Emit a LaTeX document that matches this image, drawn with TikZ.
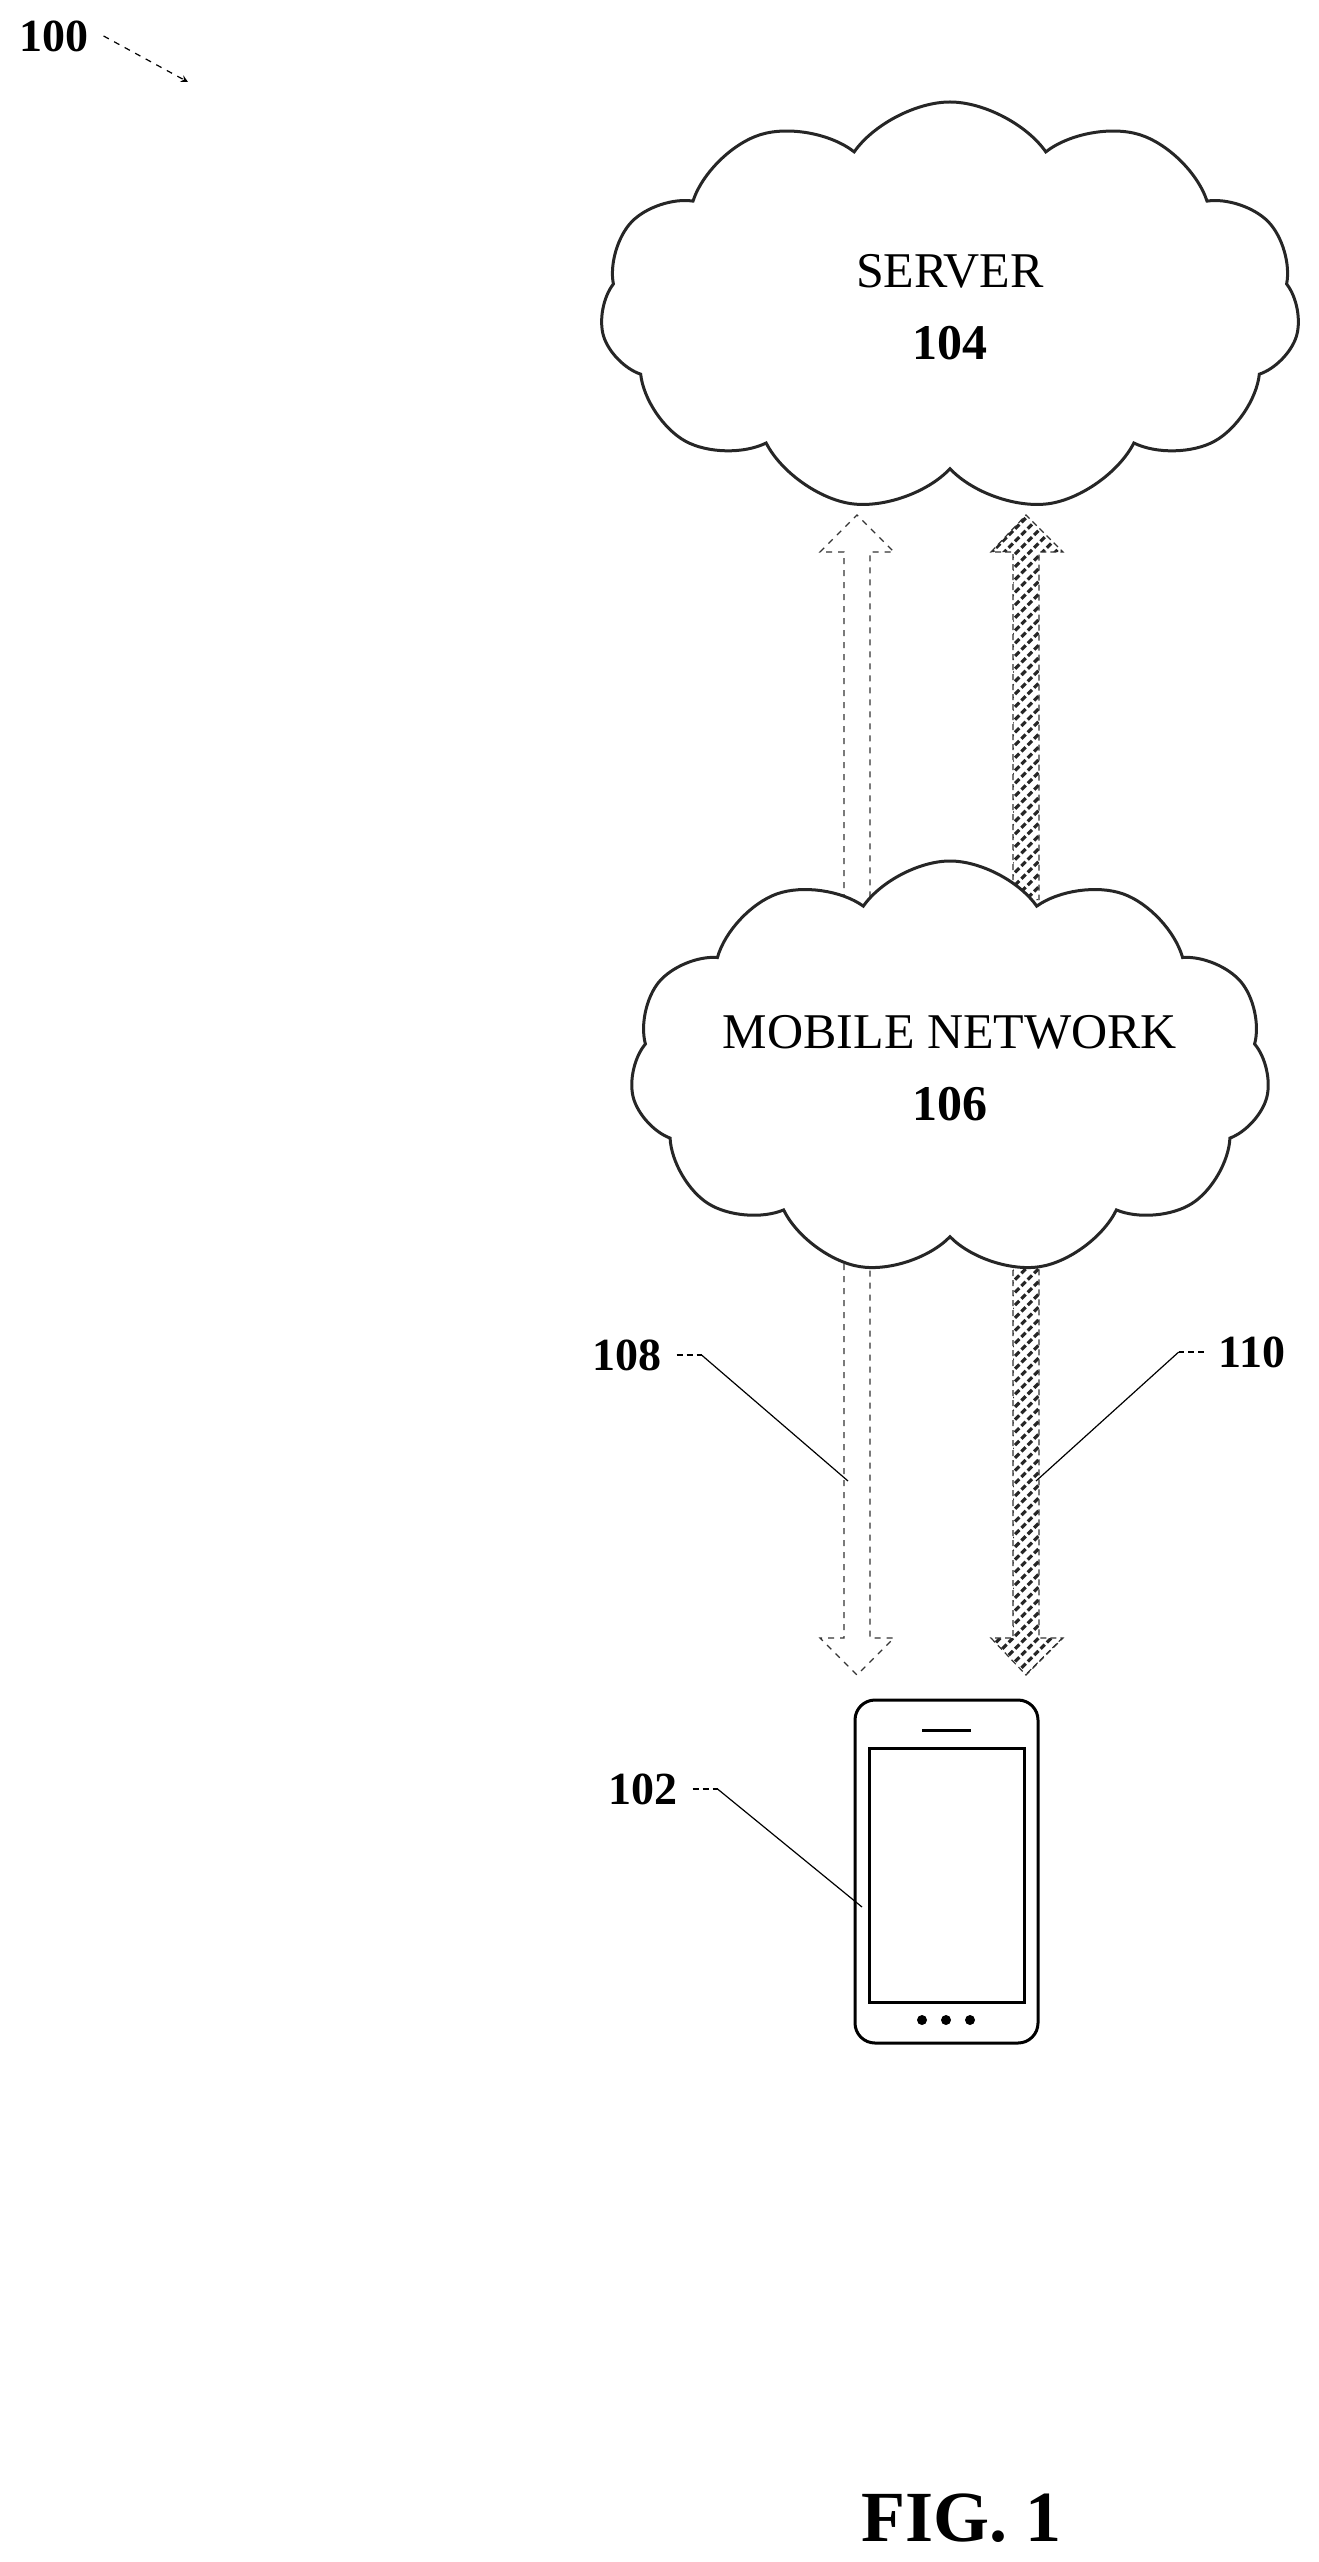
\documentclass[tikz,border=0pt]{standalone}
\usepackage{fontspec}
\setmainfont{Liberation Serif}
\usetikzlibrary{shapes.symbols,patterns.meta}
\begin{document}
\begin{tikzpicture}[x=0.5pt,y=-0.5pt,
  cl/.style={cloud,cloud puffs=11,cloud puff arc=110,draw=black!85,line width=1.5pt,minimum width=350pt,minimum height=205pt},
  ctext/.style={align=center,font=\fontsize{25}{30}\selectfont},
  ref/.style={font=\bfseries\fontsize{23}{27}\selectfont},
  lead/.style={line width=0.6pt},
  hollow/.style={draw=black!80,line width=0.6pt,fill=white,dashed},
  hatch/.style={draw=black!80,line width=0.6pt,pattern={Lines[angle=45,distance=4.5pt,line width=1.6pt]},pattern color=black!85,densely dashed}]
\useasboundingbox (0,0) rectangle (1318,2562);
\node[cl] (server) at (950,307) {};
\node[ctext] (servert) at (950,307) {SERVER\\[6pt]\textbf{104}};
% arrows up
\path[hollow] (844,900) -- (844,552) -- (820,552) -- (857,515) -- (894,552) -- (870,552) -- (870,900);
\path[hatch] (1013,900) -- (1013,552) -- (991,552) -- (1026,515) -- (1063,552) -- (1039,552) -- (1039,900);
% arrows down
\path[hollow] (844,1240) -- (844,1638) -- (820,1638) -- (857,1675) -- (894,1638) -- (870,1638) -- (870,1240);
\path[hatch] (1013,1240) -- (1013,1638) -- (991,1638) -- (1026,1675) -- (1063,1638) -- (1039,1638) -- (1039,1240);
\node[cl,minimum width=320pt,minimum height=207pt,fill=white] (net) at (950,1068) {};
\node[ctext] (nett) at (950,1068) {MOBILE NETWORK\\[6pt]\textbf{106}};
% phone
\draw[line width=1.5pt,rounded corners=10pt] (855,1700) rectangle (1038,2043);
\draw[line width=1.5pt] (869,1748) rectangle (1024,2002);
\draw[line width=1.5pt] (922,1730) -- (971,1730);
\foreach \x in {922,946,970} \fill (\x,2020) circle (2.5pt);
\coordinate (phone) at (862,1907);
% labels
\node[ref] (l100) at (54,36) {100};
\draw[lead,dashed,-stealth] (l100.east) ++(8,0) -- (188,82);
\node[ref] (l108) at (627,1355) {108};
\draw[lead,densely dashed] (l108.east) ++(8,0) -- ++(25,0) coordinate (b);
\draw[lead] (b) -- (848,1481);
\node[ref] (l110) at (1252,1352) {110};
\draw[lead,densely dashed] (l110.west) ++(-8,0) -- ++(-25,0) coordinate (c);
\draw[lead] (c) -- (1036,1481);
\node[ref] (l102) at (643,1789) {102};
\draw[lead,densely dashed] (l102.east) ++(8,0) -- ++(25,0) coordinate (d);
\draw[lead] (d) -- (phone);
\node[font=\bfseries\fontsize{36}{42}\selectfont] (fig) at (961,2518) {FIG. 1};
\end{tikzpicture}
\end{document}
